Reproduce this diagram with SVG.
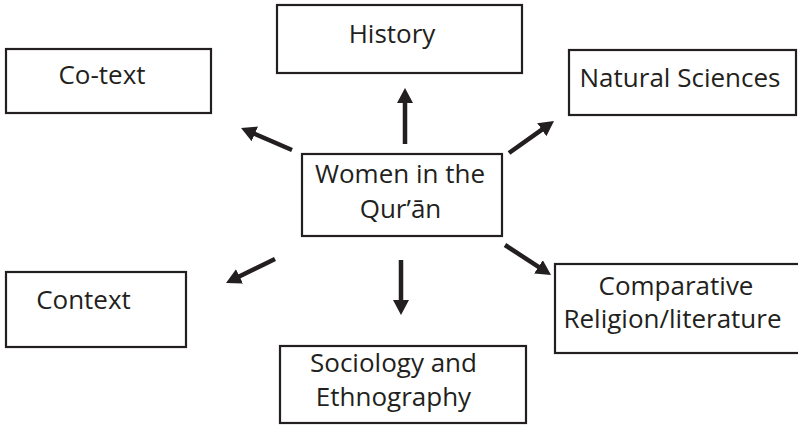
<svg xmlns="http://www.w3.org/2000/svg" width="798" height="425" viewBox="0 0 798 425">
  <defs>
    <style>
      .box { fill: #ffffff; stroke: #231f20; stroke-width: 2.2; }
      .lbl { font-family: "Open Sans", "Noto Sans", "DejaVu Sans", sans-serif; font-size: 26px; fill: #231f20; text-anchor: middle; }
      .conn { stroke: #231f20; stroke-width: 4.5; fill: none; marker-end: url(#arrow); }
    </style>
    <marker id="arrow" viewBox="0 0 15 16" refX="1" refY="8" markerWidth="15" markerHeight="16" markerUnits="userSpaceOnUse" orient="auto">
      <path d="M0,0 L15,8 L0,16 z" fill="#231f20"/>
    </marker>
  </defs>
  <rect width="798" height="425" fill="#ffffff"/>

  <g id="center">
    <rect class="box" x="302" y="154" width="200" height="82"/>
    <text class="lbl" x="400" y="183">Women in the</text>
    <text class="lbl" x="400.5" y="218">Qur’ān</text>
  </g>

  <g id="history">
    <rect class="box" x="277" y="5" width="245" height="68"/>
    <text class="lbl" x="392" y="43">History</text>
  </g>

  <g id="cotext">
    <rect class="box" x="6" y="49" width="205" height="64"/>
    <text class="lbl" x="102" y="84">Co-text</text>
  </g>

  <g id="natural-sciences">
    <rect class="box" x="569" y="50" width="227" height="65"/>
    <text class="lbl" x="680" y="87">Natural Sciences</text>
  </g>

  <g id="context">
    <rect class="box" x="6" y="272" width="180" height="75"/>
    <text class="lbl" x="83.5" y="309">Context</text>
  </g>

  <g id="comparative">
    <rect class="box" x="555" y="264" width="245" height="89"/>
    <text class="lbl" x="676" y="295">Comparative</text>
    <text class="lbl" x="672.5" y="328">Religion/literature</text>
  </g>

  <g id="sociology">
    <rect class="box" x="280" y="346" width="246" height="77"/>
    <text class="lbl" x="393.5" y="372">Sociology and</text>
    <text class="lbl" x="393.5" y="406">Ethnography</text>
  </g>

  <g id="connectors">
    <line class="conn" x1="405" y1="144" x2="405" y2="102"/>
    <line class="conn" x1="401" y1="260" x2="401" y2="301"/>
    <line class="conn" x1="292" y1="150" x2="253.9" y2="133.5"/>
    <line class="conn" x1="509" y1="153" x2="542.6" y2="129.1"/>
    <line class="conn" x1="275" y1="259" x2="238.6" y2="276.8"/>
    <line class="conn" x1="505" y1="245" x2="539.3" y2="267.4"/>
  </g>
</svg>
